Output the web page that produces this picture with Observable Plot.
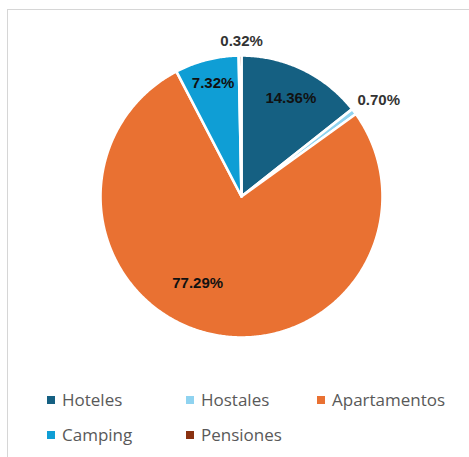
<!DOCTYPE html>
<html>
<head>
<meta charset="utf-8">
<script src="https://cdn.jsdelivr.net/npm/d3@7"></script>
<script src="https://cdn.jsdelivr.net/npm/@observablehq/plot@0.6"></script>
<style>
  html, body { margin: 0; padding: 0; background: #fff; width: 469px; height: 457px; overflow: hidden; }
  #frame { position: absolute; left: 7px; top: 9px; width: 500px; height: 500px; border: 1px solid #d6d6d6; box-sizing: border-box; }
  #chart { position: absolute; left: 0; top: 0; }
  #legend { position: absolute; left: 47px; top: 382px; display: grid;
            grid-template-columns: 139px 131px auto; grid-auto-rows: 35px;
            font-family: "Open Sans", sans-serif; font-size: 17px; color: #595959; }
  .item { display: flex; align-items: center; }
  .sw { width: 8px; height: 8px; margin-right: 7px; flex: none; }
</style>
</head>
<body>
<div id="frame"></div>
<div id="chart"></div>
<div id="legend"></div>
<script>
// ---- data ----
const categories = ["Hoteles", "Hostales", "Apartamentos", "Camping", "Pensiones"];
const shares = [14.36, 0.70, 77.29, 7.32, 0.32];
const labels = ["14.36%", "0.70%", "77.29%", "7.32%", "0.32%"];

// ---- style / placement ----
const colors = ["#156082", "#8fd3f0", "#e97132", "#0f9ed5", "#8a3210"];
const labelRadius = [0.78, 1.19, 0.69, 0.83, 1.10];
const labelAngleShift = [0.8, 1.9, 13.4, 0.3, 0.6]; // degrees
const labelColor = ["#111", "#333", "#111", "#111", "#333"];

const W = 469, H = 370, cx = 241, cy = 196, R = 141;

const pie = d3.pie().sort(null).value(d => d.v)(categories.map((c, i) => ({c, v: shares[i], i})));

// polygon points for each slice (unit radius, angle clockwise from top)
const pts = [];
for (const s of pie) {
  const a0 = s.startAngle, a1 = s.endAngle;
  const n = Math.max(2, Math.ceil((a1 - a0) / (Math.PI / 360)));
  pts.push({c: s.data.c, x: 0, y: 0});
  for (let k = 0; k <= n; k++) {
    const a = a0 + (a1 - a0) * k / n;
    pts.push({c: s.data.c, x: Math.sin(a), y: Math.cos(a)});
  }
  pts.push({c: s.data.c, x: 0, y: 0});
}

const labelData = pie.map(s => {
  const i = s.data.i;
  const a = (s.startAngle + s.endAngle) / 2 + labelAngleShift[i] * Math.PI / 180;
  return {c: s.data.c, t: labels[i], x: labelRadius[i] * Math.sin(a), y: labelRadius[i] * Math.cos(a), col: labelColor[i]};
});

const plot = Plot.plot({
  width: W, height: H, margin: 0,
  x: {domain: [-cx / R, (W - cx) / R], axis: null},
  y: {domain: [(cy - H) / R, cy / R], axis: null},
  color: {domain: categories, range: colors},
  style: {background: "transparent"},
  marks: [
    Plot.line(pts, {x: "x", y: "y", z: "c", fill: "c", stroke: "white", strokeWidth: 2.6, strokeLinejoin: "round", curve: "linear"}),
    Plot.text(labelData, {x: "x", y: "y", text: "t", fill: d => d.col, fontSize: 15, fontWeight: "bold",
      fontFamily: "Liberation Sans, Arial, sans-serif"})
  ]
});
document.getElementById("chart").appendChild(plot);

const legend = document.getElementById("legend");
categories.forEach((c, i) => {
  const it = document.createElement("div");
  it.className = "item";
  const sw = document.createElement("span");
  sw.className = "sw";
  sw.style.background = colors[i];
  it.appendChild(sw);
  it.appendChild(document.createTextNode(c));
  legend.appendChild(it);
});
</script>
</body>
</html>
